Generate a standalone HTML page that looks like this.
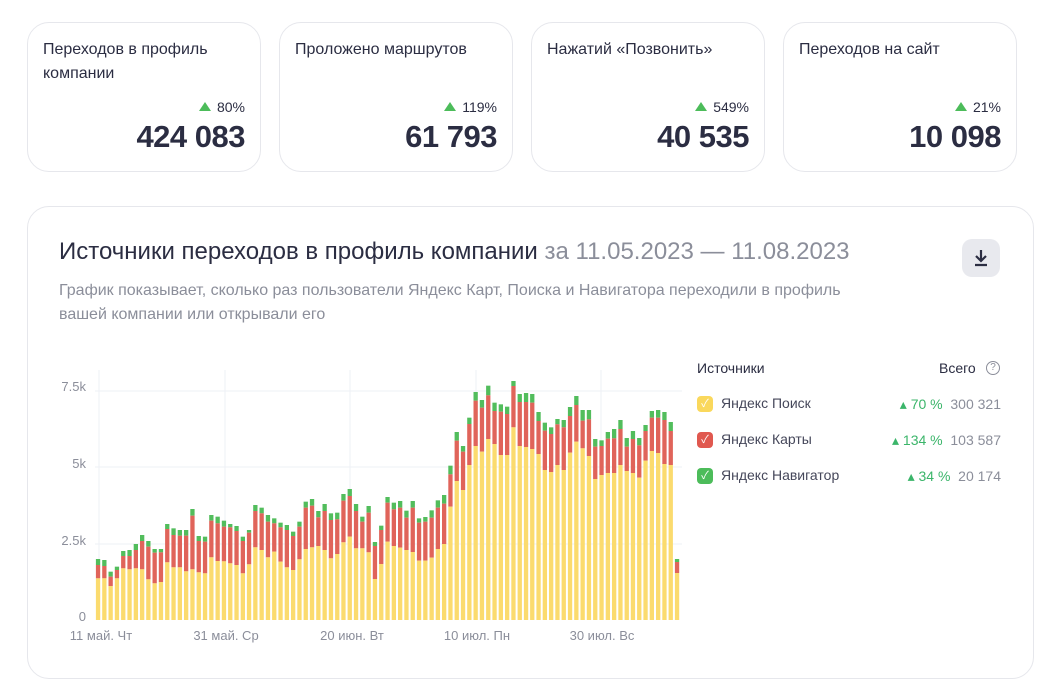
<!DOCTYPE html>
<html><head><meta charset="utf-8"><style>
body{margin:0;width:1063px;height:696px;background:#fff;font-family:"Liberation Sans","Noto Sans CJK SC",sans-serif;color:#2b2d42;position:relative;overflow:hidden}
.card{position:absolute;top:22px;width:234px;height:150px;border:1px solid #e6e7ec;border-radius:22px;box-sizing:border-box}
.card .t{position:absolute;left:15px;top:15px;font-size:16px;line-height:24px;color:#2b2d42}
.card .p{position:absolute;right:15px;top:76px;font-size:14px;color:#2b2d42}
.card .p:before{content:"";display:inline-block;border-left:6px solid transparent;border-right:6px solid transparent;border-bottom:9px solid #4cbc5a;margin-right:6px;vertical-align:1px}
.card .n{position:absolute;right:15px;top:96px;font-size:31px;font-weight:bold;color:#2b2d42;letter-spacing:-0.5px}
.big{position:absolute;left:27px;top:206px;width:1007px;height:473px;border:1px solid #e6e7ec;border-radius:22px;box-sizing:border-box}
.a{position:absolute;white-space:nowrap}
</style></head><body>
<div class="card" style="left:27px"><div class="t">Переходов в профиль<br>компании</div><div class="p">80%</div><div class="n">424 083</div></div>
<div class="card" style="left:279px"><div class="t">Проложено маршрутов</div><div class="p">119%</div><div class="n">61 793</div></div>
<div class="card" style="left:531px"><div class="t">Нажатий «Позвонить»</div><div class="p">549%</div><div class="n">40 535</div></div>
<div class="card" style="left:783px"><div class="t">Переходов на сайт</div><div class="p">21%</div><div class="n">10 098</div></div>
<div class="big"></div>
<div class="a" style="left:59px;top:238px;font-size:24px;color:#2b2d42">Источники переходов в профиль компании <span style="color:#8b8e9a">за 11.05.2023 — 11.08.2023</span></div>
<div class="a" style="left:962px;top:239px;width:38px;height:38px;border-radius:10px;background:#e8e9ee"><svg width="38" height="38"><path d="M19 11v11M14 17l5 5 5-5M13 26h12" stroke="#2b2d42" stroke-width="2.2" fill="none"/></svg></div>
<div class="a" style="left:59px;top:279px;font-size:16px;line-height:24px;color:#8b8e9a">График показывает, сколько раз пользователи Яндекс Карт, Поиска и Навигатора переходили в профиль<br>вашей компании или открывали его</div>
<svg class="a" style="left:0;top:0" width="1063" height="696" id="ch">
<g stroke="#eef0f5" stroke-width="1"><line x1="95" y1="391" x2="682" y2="391"/><line x1="95" y1="467" x2="682" y2="467"/><line x1="95" y1="544" x2="682" y2="544"/>
<line x1="99" y1="370" x2="99" y2="620"/><line x1="225" y1="370" x2="225" y2="620"/><line x1="350" y1="370" x2="350" y2="620"/><line x1="476" y1="370" x2="476" y2="620"/><line x1="601" y1="370" x2="601" y2="620"/></g>
<g font-size="13" fill="#8b8e9a" text-anchor="end"><text x="86" y="391">7.5k</text><text x="86" y="468">5k</text><text x="86" y="545">2.5k</text><text x="86" y="621">0</text></g>
<g font-size="13" fill="#8b8e9a" text-anchor="middle"><text x="101" y="640">11 май. Чт</text><text x="226" y="640">31 май. Ср</text><text x="352" y="640">20 июн. Вт</text><text x="477" y="640">10 июл. Пн</text><text x="602" y="640">30 июл. Вс</text></g>
<g id="bars"></g>
</svg>
<div class="a" style="left:697px;top:360px;font-size:14px">Источники</div>
<div class="a" style="left:939px;top:360px;font-size:14px">Всего</div>
<div class="a" style="left:986px;top:361px;width:12px;height:12px;border:1.3px solid #8b8e9a;border-radius:50%;font-size:10px;line-height:12px;text-align:center;color:#8b8e9a">?</div>
<div class="a" style="left:697px;top:396px;width:16px;height:16px;border-radius:4px;background:#fad85c;color:#fff;font-size:11px;text-align:center;line-height:16px">✓</div>
<div class="a" style="left:697px;top:432px;width:16px;height:16px;border-radius:4px;background:#e0584f;color:#fff;font-size:11px;text-align:center;line-height:16px">✓</div>
<div class="a" style="left:697px;top:468px;width:16px;height:16px;border-radius:4px;background:#4cbc5a;color:#fff;font-size:11px;text-align:center;line-height:16px">✓</div>
<div class="a" style="left:721px;top:395px;font-size:14px;color:#45475a">Яндекс Поиск</div>
<div class="a" style="left:721px;top:431px;font-size:14px;color:#45475a">Яндекс Карты</div>
<div class="a" style="left:721px;top:467px;font-size:14px;color:#45475a">Яндекс Навигатор</div>
<div class="a" style="right:62px;top:396px;font-size:14px;color:#8b8e9a"><span style="color:#3bb56a">▴ 70 %</span>&nbsp; 300 321</div>
<div class="a" style="right:62px;top:432px;font-size:14px;color:#8b8e9a"><span style="color:#3bb56a">▴ 134 %</span>&nbsp; 103 587</div>
<div class="a" style="right:62px;top:468px;font-size:14px;color:#8b8e9a"><span style="color:#3bb56a">▴ 34 %</span>&nbsp; 20 174</div>
<script>
var d=[[567,585,625],[570,588,625],[605,620,648],[590,600,625],[543,558,595],[540,558,598],[522,540,595],[495,513,598],[513,530,628],[537,548,640],[537,547,636],[462,477,577],[475,495,592],[480,497,592],[480,497,604],[417,437,598],[498,513,607],[500,515,610],[435,452,562],[440,460,573],[452,470,574],[462,472,580],[468,483,585],[500,513,610],[480,488,583],[405,423,532],[413,430,540],[435,455,562],[445,460,545],[458,472,575],[465,480,592],[485,498,600],[455,470,568],[395,413,537],[387,407,532],[423,442,528],[402,423,540],[430,450,565],[428,448,552],[372,392,517],[357,378,500],[402,423,535],[440,455,535],[408,428,547],[516,528,627],[467,480,582],[381,398,515],[398,418,528],[393,413,533],[422,443,540],[393,413,546],[445,458,572],[441,455,572],[421,443,563],[391,413,537],[375,401,522],[287,313,410],[186,212,333],[228,245,360],[143,162,285],[66,92,228],[90,113,245],[47,76,207],[98,123,222],[103,125,255],[110,132,255],[33,48,172],[72,96,228],[69,96,231],[72,98,237],[126,153,252],[158,182,300],[172,192,306],[147,163,285],[150,172,300],[111,138,248],[78,105,215],[120,152,235],[120,148,258],[207,230,327],[211,228,315],[186,206,309],[177,205,309],[150,177,285],[204,230,303],[183,207,309],[204,226,323],[165,183,272],[123,143,243],[120,143,249],[126,150,282],[156,183,285],[567,576,609]];
var s='',n=d.length,st=(677-98)/(n-1);
function Y(z){return 370+z/3}
d.forEach(function(b,i){var x=(98+i*st-2.1).toFixed(1),g=Y(b[0]),r=Y(b[1]),y=Y(b[2]);
s+='<rect x="'+x+'" y="'+g+'" width="4.3" height="'+(r-g)+'" fill="#52bd5c"/>';
s+='<rect x="'+x+'" y="'+r+'" width="4.3" height="'+(y-r)+'" fill="#e0645a"/>';
s+='<rect x="'+x+'" y="'+y+'" width="4.3" height="'+(620-y)+'" fill="#fbdb6e"/>';});
document.getElementById('bars').innerHTML=s;
</script>
</body></html>
